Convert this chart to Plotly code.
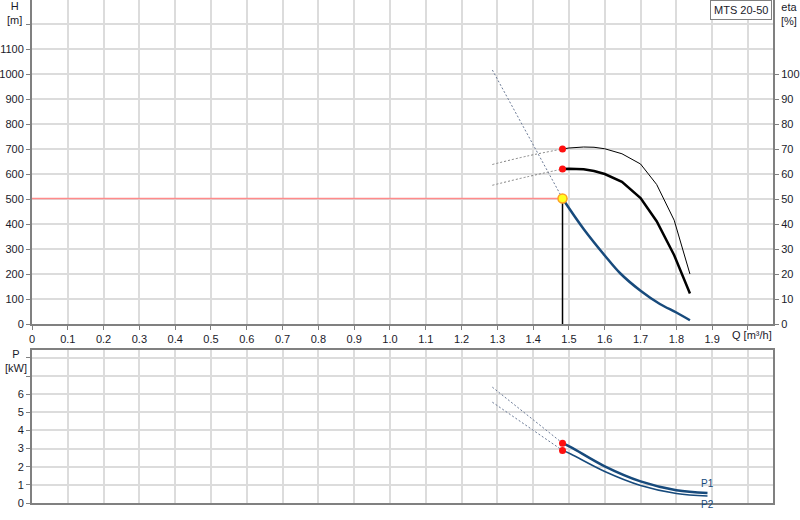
import plotly.graph_objects as go

# duty point
q_duty = 1.482
h_duty = 502

# head curve H [m]
q_h = [1.482, 1.541, 1.60, 1.643, 1.70, 1.754, 1.80, 1.838]
h = [502, 380, 274, 203, 133, 80, 46, 15]
q_h_ext = [1.286, 1.482]
h_ext = [1016, 502]

# efficiency curves eta [%]
q_eta = [1.482, 1.50, 1.541, 1.57, 1.60, 1.648, 1.70, 1.745, 1.794, 1.838]
eta1 = [70.0, 70.4, 70.8, 70.7, 70.1, 68.1, 64.0, 55.8, 41.5, 20.0]
eta2 = [62.0, 62.1, 61.9, 61.2, 60.0, 56.9, 50.4, 41.1, 27.5, 12.2]
q_eta_ext = [1.286, 1.384, 1.482]
eta1_ext = [63.8, 67.2, 70.0]
eta2_ext = [55.5, 58.9, 62.0]

# power curves P [kW]
q_p = [1.482, 1.505, 1.60, 1.70, 1.80, 1.887]
p1 = [3.30, 3.08, 2.02, 1.19, 0.70, 0.55]
p2 = [2.90, 2.70, 1.74, 0.97, 0.53, 0.39]
q_p_ext = [1.286, 1.482]
p1_ext = [6.39, 3.30]
p2_ext = [5.56, 2.90]

q_ticks = [i / 10 for i in range(21)]
q_labels = ["0"] + [f"{v:.1f}" for v in q_ticks[1:20]] + [""]
h_ticks = list(range(0, 1300, 100))
h_labels = [str(v) for v in h_ticks[:-1]] + [""]
eta_ticks = list(range(0, 110, 10))
p_ticks = list(range(9))
p_labels = [str(v) for v in p_ticks[:7]] + ["", ""]

blue = "#174a7c"
dotc = "#6b7a96"
grid = "#dcdcdc"
axc = "#808080"
font = dict(family="Liberation Sans, Arial", size=11, color="#1a1a2a")
W, H = 800, 520

fig = go.Figure()

# top plot
fig.add_trace(go.Scatter(x=[0, q_duty], y=[h_duty, h_duty], mode="lines",
                         line=dict(color="#ff8a8a", width=1.5), xaxis="x", yaxis="y"))
fig.add_trace(go.Scatter(x=[q_duty, q_duty], y=[0, h_duty], mode="lines",
                         line=dict(color="black", width=1.5), xaxis="x", yaxis="y"))
fig.add_trace(go.Scatter(x=q_h_ext, y=h_ext, mode="lines",
                         line=dict(color=dotc, width=1, dash="2px,2px"), xaxis="x", yaxis="y"))
fig.add_trace(go.Scatter(x=q_h, y=h, mode="lines", line=dict(color=blue, width=2.5, shape="spline"),
                         xaxis="x", yaxis="y"))
for ext in (eta1_ext, eta2_ext):
    fig.add_trace(go.Scatter(x=q_eta_ext, y=ext, mode="lines",
                             line=dict(color="#808080", width=1, dash="2px,2px", shape="spline"),
                             xaxis="x", yaxis="y2"))
fig.add_trace(go.Scatter(x=q_eta, y=eta1, mode="lines", line=dict(color="black", width=1),
                         xaxis="x", yaxis="y2"))
fig.add_trace(go.Scatter(x=q_eta, y=eta2, mode="lines", line=dict(color="black", width=2.5),
                         xaxis="x", yaxis="y2"))
fig.add_trace(go.Scatter(x=[q_duty, q_duty], y=[eta1[0], eta2[0]], mode="markers",
                         marker=dict(color="#ff1010", size=7), xaxis="x", yaxis="y2"))
fig.add_trace(go.Scatter(x=[q_duty], y=[h_duty], mode="markers",
                         marker=dict(color="#ffff20", size=9, line=dict(color="#ffa020", width=1.5)),
                         xaxis="x", yaxis="y"))

# bottom plot
for ext in (p1_ext, p2_ext):
    fig.add_trace(go.Scatter(x=q_p_ext, y=ext, mode="lines",
                             line=dict(color=dotc, width=1, dash="2px,2px"), xaxis="x2", yaxis="y3"))
fig.add_trace(go.Scatter(x=q_p, y=p1, mode="lines", line=dict(color=blue, width=2.5, shape="spline"),
                         xaxis="x2", yaxis="y3"))
fig.add_trace(go.Scatter(x=q_p, y=p2, mode="lines", line=dict(color=blue, width=1.5, shape="spline"),
                         xaxis="x2", yaxis="y3"))
fig.add_trace(go.Scatter(x=[q_duty, q_duty], y=[p1[0], p2[0]], mode="markers",
                         marker=dict(color="#ff1010", size=7), xaxis="x2", yaxis="y3"))

common_x = dict(range=[0, 2.07], tickmode="array", tickvals=q_ticks, showgrid=True,
                gridcolor=grid, gridwidth=1.5, showline=True, linecolor=axc, linewidth=2,
                ticks="outside", ticklen=4, tickcolor=axc, zeroline=False, tickfont=font,
                automargin=False)
common_y = dict(tickmode="array", showgrid=True, gridcolor=grid, gridwidth=1.5,
                showline=True, linecolor=axc, linewidth=2, ticks="outside", ticklen=4,
                tickcolor=axc, zeroline=False, tickfont=font, automargin=False)

x_dom = [32 / W, 773 / W]
fig.update_layout(
    width=W, height=H, showlegend=False,
    margin=dict(l=0, r=0, t=0, b=0),
    paper_bgcolor="white", plot_bgcolor="white",
    font=font,
    xaxis=dict(common_x, domain=x_dom, anchor="y", ticktext=q_labels),
    yaxis=dict(common_y, domain=[1 - 324 / H, 1], anchor="x", range=[0, 1296],
               tickvals=h_ticks, ticktext=h_labels),
    yaxis2=dict(overlaying="y", side="right", anchor="x", range=[0, 129.6], tickmode="array",
                tickvals=eta_ticks, showgrid=False, showline=True, linecolor=axc, linewidth=2,
                ticks="outside", ticklen=4, tickcolor=axc, zeroline=False, tickfont=font,
                automargin=False),
    xaxis2=dict(common_x, domain=x_dom, anchor="y3", ticktext=[""] * len(q_ticks),
                mirror=True, ticks=""),
    yaxis3=dict(common_y, domain=[1 - 503 / H, 1 - 350 / H], anchor="x2", range=[0, 8.44],
                tickvals=p_ticks, ticktext=p_labels, mirror=True),
)

for tx, ty, text in [(14, 13, "H<br>[m]"), (16, 361, "P<br>[kW]"), (789, 14, "eta<br>[%]")]:
    fig.add_annotation(xref="paper", yref="paper", x=tx / W, y=1 - ty / H, text=text,
                       showarrow=False, font=font, align="center",
                       xanchor="center", yanchor="middle")
fig.add_annotation(xref="paper", yref="paper", x=752 / W, y=1 - 335 / H, text="Q [m³/h]",
                   showarrow=False, font=font, xanchor="center", yanchor="middle")
fig.add_annotation(xref="paper", yref="paper", x=772 / W, y=1, text="MTS 20-50",
                   showarrow=False, font=font, xanchor="right", yanchor="top",
                   bgcolor="white", bordercolor="#808080", borderwidth=1, borderpad=3)
fig.add_annotation(x=1.887, y=p1[-1], xref="x2", yref="y3", text="P1", showarrow=False,
                   font=dict(font, color=blue, size=10), xanchor="center", yanchor="bottom", yshift=2)
fig.add_annotation(x=1.887, y=p2[-1], xref="x2", yref="y3", text="P2", showarrow=False,
                   font=dict(font, color=blue, size=10), xanchor="center", yanchor="top", yshift=-1)

# drop the default page margin so the figure sits at the window's corner
fig.write_html("out.html", config={"displayModeBar": False},
               post_script="document.body.style.margin='0';")
